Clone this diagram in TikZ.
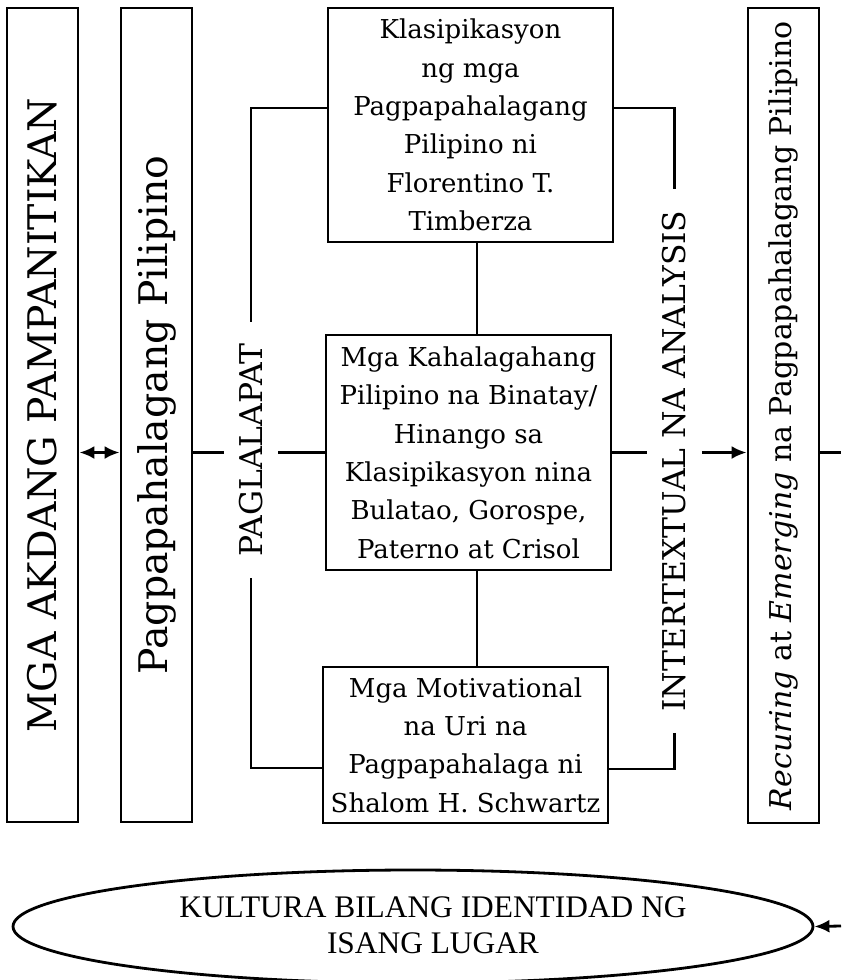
\documentclass[tikz,border=0pt]{standalone}
\usepackage{fontspec}
\setmainfont{DejaVu Serif}
\newfontfamily\garafont{Liberation Serif}
\usetikzlibrary{arrows.meta,shapes.geometric}

\begin{document}
\begin{tikzpicture}[x=0.5pt,y=-0.5pt,line width=1.4pt,>={Latex[length=7.5pt,width=6.5pt]},
    tallbox/.style={draw,minimum width=35.5pt,minimum height=407pt,inner sep=0pt},
    textbox/.style={draw,align=center,minimum width=142.5pt,inner sep=1pt,font=\fontsize{13}{19.2}\selectfont},
    sidelabel/.style={inner xsep=7pt,inner ysep=10pt,font=\fontsize{15.7}{18}\selectfont}]
    \useasboundingbox (0,0) rectangle (841,980);
    % columns
    \node[tallbox,font=\fontsize{19.7}{22}\selectfont] (akda) at (42.5,415) {\rotatebox{90}{MGA AKDANG PAMPANITIKAN}};
    \node[tallbox,font=\fontsize{19.7}{22}\selectfont] (pagpa) at (156.5,415) {\rotatebox{90}{Pagpapahalagang Pilipino}};
    \node[tallbox,minimum height=407.5pt,font=\fontsize{15}{18}\selectfont] (recur) at (783.5,415.5) {\rotatebox{90}{\textit{Recuring} at \textit{Emerging} na Pagpapahalagang Pilipino}};
    % middle boxes
    \node[textbox,minimum height=117pt] (klasi) at (470.5,125) {Klasipikasyon\\ ng mga\\ Pagpapahalagang\\ Pilipino ni\\ Florentino T.\\ Timberza};
    \node[textbox,minimum height=117.5pt] (mid) at (468.5,452.5) {Mga Kahalagahang\\ Pilipino na Binatay/\\ Hinango sa\\ Klasipikasyon nina\\ Bulatao, Gorospe,\\ Paterno at Crisol};
    \node[textbox,minimum height=78pt] (motiv) at (465.5,745) {Mga Motivational\\ na Uri na\\ Pagpapahalaga ni\\ Shalom H. Schwartz};
    \node[sidelabel] (pagla) at (251,450) {\rotatebox{90}{PAGLALAPAT}};
    \node[sidelabel] (inter) at (674.5,461) {\rotatebox{90}{INTERTEXTUAL NA ANALYSIS}};
    % bottom
    \node[ellipse,draw,minimum width=400pt,minimum height=56.5pt] (lugar) at (413,926.5) {};
    \node[align=center,font=\garafont\fontsize{15.7}{18}\selectfont] (lugartext) at (433,925) {KULTURA BILANG IDENTIDAD NG\\ ISANG LUGAR};
    \coordinate (spine) at (477,0);
    \coordinate (edgeR) at (841,452.5);
    \coordinate (edgeL) at (841,926);
    % connectors
    \draw[<->] (akda.east |- mid.west) -- (pagpa.west |- mid.west);
    \draw (pagpa.east |- mid.west) -- (mid.west -| pagla.west);
    \draw (mid.west -| pagla.east) -- (mid.west);
    \draw ([yshift=8.5pt]klasi.west) -| (pagla.north);
    \draw (pagla.south) |- ([yshift=-11.5pt]motiv.west);
    \draw ([yshift=8.5pt]klasi.east) -| (inter.north);
    \draw (inter.south) |- ([yshift=-12pt]motiv.east);
    \draw (klasi.south -| spine) -- (mid.north -| spine);
    \draw (mid.south -| spine) -- (motiv.north -| spine);
    \draw (mid.east) -- (mid.east -| inter.west);
    \draw[->] (mid.east -| inter.east) -- (mid.east -| recur.west);
    \draw (recur.east |- mid.east) -- (edgeR);
    \draw[->] (edgeL) -- (lugar.east);
\end{tikzpicture}
\end{document}
